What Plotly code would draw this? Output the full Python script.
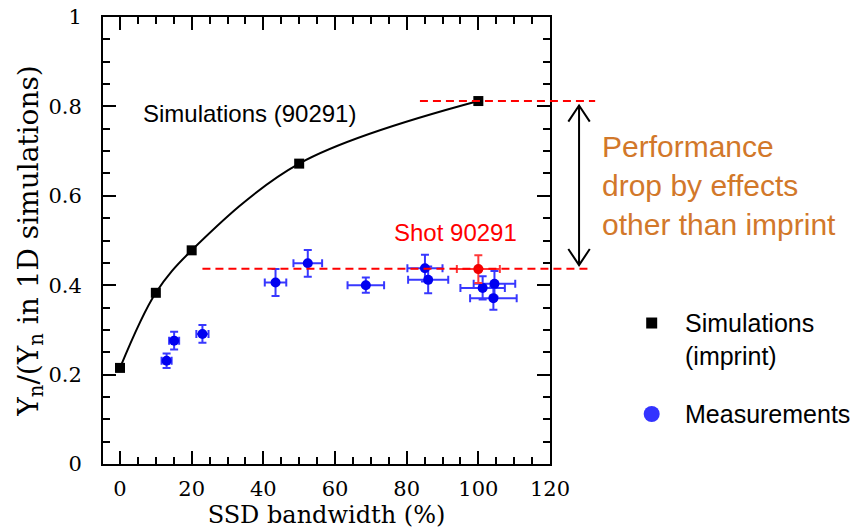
import plotly.graph_objects as go

# ---- data ----
sim_x = [0, 10, 20, 50, 100]
sim_y = [0.215, 0.383, 0.478, 0.672, 0.812]

meas_x = [13.0, 15.1, 23.0, 43.4, 52.4, 68.6, 85.1, 86.0, 101.2, 104.5, 104.2]
meas_y = [0.231, 0.276, 0.291, 0.406, 0.449, 0.400, 0.438, 0.412, 0.394, 0.403, 0.371]
meas_ex = [1.4, 1.4, 1.7, 3.0, 4.0, 5.1, 4.9, 5.6, 6.2, 5.8, 6.5]
meas_ey = [0.016, 0.020, 0.020, 0.030, 0.030, 0.017, 0.030, 0.030, 0.026, 0.029, 0.026]

shot_x = [100.0]
shot_y = [0.436]
shot_ex = [6.0]
shot_ey = [0.031]

x_ticks = [0, 20, 40, 60, 80, 100, 120]
y_ticks = [0, 0.2, 0.4, 0.6, 0.8, 1]
y_tick_text = ["0", "0.2", "0.4", "0.6", "0.8", "1"]

# guide levels
sim_level = 0.812
shot_level = 0.437

XMIN, XMAX = -4.75, 120
YMIN, YMAX = 0, 1


def px(xv):
    return (xv - XMIN) / (XMAX - XMIN)


SERIF = "DejaVu Serif, serif"
SANS = "Liberation Sans, Arial, sans-serif"

fig = go.Figure()

fig.add_trace(go.Scatter(
    x=sim_x, y=sim_y, mode="lines+markers",
    line=dict(color="black", width=2, shape="spline", smoothing=1.0),
    marker=dict(symbol="square", size=10, color="black"),
    showlegend=False,
))

fig.add_trace(go.Scatter(
    x=meas_x, y=meas_y, mode="markers",
    marker=dict(symbol="circle", size=10, color="#0000F0"),
    error_x=dict(type="data", array=meas_ex, color="#3838FF", thickness=2, width=4),
    error_y=dict(type="data", array=meas_ey, color="#3838FF", thickness=2, width=4),
    showlegend=False,
))

fig.add_trace(go.Scatter(
    x=shot_x, y=shot_y, mode="markers",
    marker=dict(symbol="circle", size=10, color="#F00000"),
    error_x=dict(type="data", array=shot_ex, color="#FF3838", thickness=2, width=4),
    error_y=dict(type="data", array=shot_ey, color="#FF3838", thickness=2, width=4),
    showlegend=False,
))

shapes = []
# dashed red guide lines (extend beyond plot on the right)
shapes.append(dict(type="line", xref="paper", yref="y",
                   x0=px(83.7), x1=px(132.6), y0=sim_level, y1=sim_level,
                   line=dict(color="#FF0000", width=2, dash="8px,5px")))
shapes.append(dict(type="line", xref="paper", yref="y",
                   x0=px(23.0), x1=px(131.2), y0=shot_level, y1=shot_level,
                   line=dict(color="#FF0000", width=2, dash="8px,5px")))

# double-headed open arrow
ax_ = 1.065
top = sim_level - 0.01
bot = shot_level + 0.008
hw = 0.024   # half width (paper x)
hl = 0.036   # head length (y data)
path = (f"M {ax_},{top} L {ax_},{bot} "
        f"M {ax_-hw},{top-hl} L {ax_},{top} L {ax_+hw},{top-hl} "
        f"M {ax_-hw},{bot+hl} L {ax_},{bot} L {ax_+hw},{bot+hl}")
shapes.append(dict(type="path", xref="paper", yref="y", path=path,
                   line=dict(color="black", width=2)))

# legend symbols
sq = 11 / 447 / 2
sq_y = 0.3154
shapes.append(dict(type="rect", xref="paper", yref="paper",
                   x0=1.2275 - sq, x1=1.2275 + sq, y0=sq_y - sq, y1=sq_y + sq,
                   fillcolor="black", line=dict(width=0)))
cr = 16 / 447 / 2
cr_y = 0.1119
shapes.append(dict(type="circle", xref="paper", yref="paper",
                   x0=1.2275 - cr, x1=1.2275 + cr, y0=cr_y - cr, y1=cr_y + cr,
                   fillcolor="#3333FF", line=dict(width=0)))

annotations = [
    dict(text="Simulations (90291)", x=36, y=0.785, xref="x", yref="y",
         showarrow=False, font=dict(family=SANS, size=24, color="black")),
    dict(text="Shot 90291", x=93.5, y=0.519, xref="x", yref="y",
         showarrow=False, font=dict(family=SANS, size=24, color="#FF0000")),
    dict(text="Performance<br>drop by effects<br>other than imprint",
         x=1.112, y=0.624, xref="paper", yref="paper", xanchor="left", yanchor="middle",
         align="left", showarrow=False,
         font=dict(family=SANS, size=30, color="#D2782A")),
    dict(text="Simulations<br>(imprint)", x=1.2975, y=0.2796, xref="paper", yref="paper",
         xanchor="left", yanchor="middle", align="left", showarrow=False,
         font=dict(family=SANS, size=25, color="black")),
    dict(text="Measurements", x=1.2975, y=cr_y, xref="paper", yref="paper",
         xanchor="left", yanchor="middle", align="left", showarrow=False,
         font=dict(family=SANS, size=25, color="black")),
]

axis_common = dict(
    showline=True, linecolor="black", linewidth=2, mirror="ticks",
    ticks="inside", ticklen=13, tickwidth=1.5, tickcolor="black",
    showgrid=False, zeroline=False, automargin=False,
    tickfont=dict(family=SERIF, size=21, color="black"),
)

fig.update_layout(
    width=861, height=530,
    margin=dict(l=103, r=311, t=17, b=66, autoexpand=False),
    paper_bgcolor="white", plot_bgcolor="white",
    shapes=shapes, annotations=annotations,
    xaxis=dict(range=[XMIN, XMAX], tickvals=x_ticks,
               minor=dict(dtick=5, tick0=0, ticks="inside", ticklen=7, tickwidth=1.5, tickcolor="black"),
               title=dict(text="SSD bandwidth (%)", font=dict(family=SERIF, size=24, color="black"), standoff=2),
               ticklabelstandoff=5,
               **axis_common),
    yaxis=dict(range=[YMIN, YMAX], tickvals=y_ticks, ticktext=y_tick_text,
               minor=dict(dtick=0.05, tick0=0, ticks="inside", ticklen=7, tickwidth=1.5, tickcolor="black"),
               title=dict(text="Y<sub>n</sub>/(Y<sub>n</sub> in 1D simulations)",
                          font=dict(family=SERIF, size=28, color="black"), standoff=0),
               ticklabelstandoff=15,
               **axis_common),
)

fig.write_html("out.html")
